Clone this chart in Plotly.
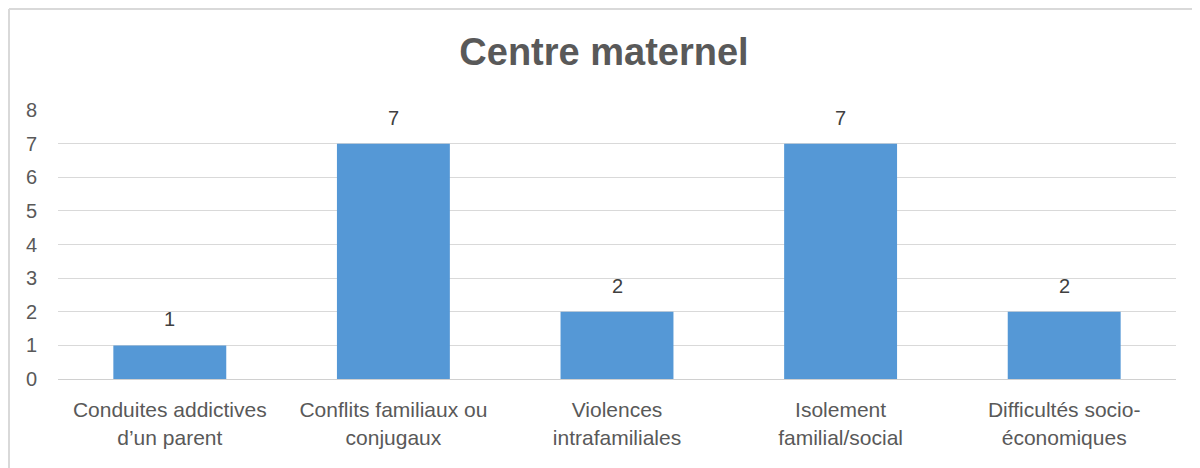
import plotly.graph_objects as go

categories = [
    "Conduites addictives<br>d’un parent",
    "Conflits familiaux ou<br>conjugaux",
    "Violences<br>intrafamiliales",
    "Isolement<br>familial/social",
    "Difficultés socio-<br>économiques",
]
values = [1, 7, 2, 7, 2]
y_ticks = [0, 1, 2, 3, 4, 5, 6, 7, 8]

font_family = "Liberation Sans, Arial, sans-serif"

# page body adds an 8px margin, so the figure is sized to fit inside 1200x468
W, H = 1192, 460
L, R, T, B = 50, 24, 102, 89
pw, ph = W - L - R, H - T - B

fig = go.Figure()
fig.add_trace(go.Bar(
    x=categories,
    y=values,
    marker=dict(color="#5598d6", line=dict(width=0)),
    hoverinfo="x+y",
))

# value labels above the bars
for c, v in zip(categories, values):
    fig.add_annotation(
        x=c, y=v, text=str(v), showarrow=False,
        yanchor="middle", yshift=26,
        font=dict(size=20, color="#404040", family=font_family),
    )

fig.update_layout(
    width=W,
    height=H,
    margin=dict(l=L, r=R, t=T, b=B),
    paper_bgcolor="white",
    plot_bgcolor="white",
    bargap=0.495,
    showlegend=False,
    title=dict(
        text="<b>Centre maternel</b>",
        x=0.5,
        xanchor="center",
        y=1 - 44 / H,
        yanchor="middle",
        font=dict(size=38, color="#595959", family=font_family),
    ),
    xaxis=dict(
        showgrid=False,
        showline=True,
        linecolor="#d0d0d0",
        linewidth=1,
        ticks="",
        ticklabelstandoff=12,
        tickfont=dict(size=21, color="#595959", family=font_family),
    ),
    yaxis=dict(
        range=[0, 8],
        tickvals=y_ticks,
        showgrid=True,
        gridcolor="#d9d9d9",
        gridwidth=1,
        zeroline=False,
        showline=False,
        ticks="",
        ticklabelstandoff=20,
        tickfont=dict(size=20, color="#595959", family=font_family),
    ),
    shapes=[
        # chart border (top and left edges visible)
        dict(type="line", xref="paper", yref="paper",
             x0=-(L - 1) / pw, x1=1 + R / pw,
             y0=1 + (T - 1) / ph, y1=1 + (T - 1) / ph,
             line=dict(color="#d9d9d9", width=2)),
        dict(type="line", xref="paper", yref="paper",
             x0=-(L - 1) / pw, x1=-(L - 1) / pw,
             y0=-B / ph, y1=1 + (T - 1) / ph,
             line=dict(color="#d9d9d9", width=2)),
    ],
)

fig.write_html("out.html")
